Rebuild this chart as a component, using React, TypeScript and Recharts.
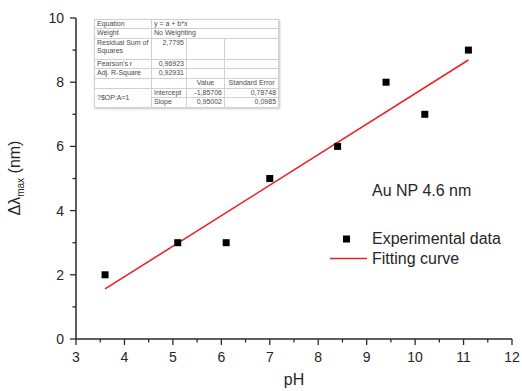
import React from "react";
import {
  ComposedChart,
  XAxis,
  YAxis,
  Scatter,
  Line,
  Customized,
} from "recharts";

const experimentalPH = [3.6, 5.1, 6.1, 7.0, 8.4, 9.4, 10.2, 11.1];
const experimentalShift = [2, 3, 3, 5, 6, 8, 7, 9];
const fitPH = [3.6, 11.1];
const fitShift = [1.56, 8.69];
const xTicks = [3, 3.5, 4, 4.5, 5, 5.5, 6, 6.5, 7, 7.5, 8, 8.5, 9, 9.5, 10, 10.5, 11, 11.5, 12];
const yTicks = [0, 1, 2, 3, 4, 5, 6, 7, 8, 9, 10];
const yMajorTicks = [0, 2, 4, 6, 8, 10];

const points = experimentalPH.map((x, i) => ({ x, y: experimentalShift[i] }));
const fitLine = fitPH.map((x, i) => ({ x, y: fitShift[i] }));

const FONT = '"Liberation Sans", Arial, sans-serif';
const AXIS = "#2a2a2a";
const TEXT = "#262626";

const XTick = (props: any) => {
  const { x, y, payload } = props;
  const v = payload.value;
  const major = Number.isInteger(v);
  return (
    <g>
      <line x1={x} y1={y} x2={x} y2={y + (major ? 6 : 3.5)} stroke={AXIS} strokeWidth={1.3} />
      {major && (
        <text x={x} y={y + 23} textAnchor="middle" fontSize={14} fill={TEXT} fontFamily={FONT}>
          {v}
        </text>
      )}
    </g>
  );
};

const YTick = (props: any) => {
  const { x, y, payload } = props;
  const v = payload.value;
  const major = yMajorTicks.includes(v);
  return (
    <g>
      <line x1={x} y1={y} x2={x - (major ? 6 : 3.5)} y2={y} stroke={AXIS} strokeWidth={1.3} />
      {major && (
        <text x={x - 12} y={y + 5} textAnchor="end" fontSize={14} fill={TEXT} fontFamily={FONT}>
          {v}
        </text>
      )}
    </g>
  );
};

const SquareDot = (props: any) => {
  const { cx, cy } = props;
  return <rect x={cx - 3.5} y={cy - 3.5} width={7} height={7} fill="#000" />;
};

const Overlay = () => (
  <g fontFamily={FONT} fill={TEXT}>
    <text x={20} y={178} transform="rotate(-90 20 178)" textAnchor="middle" fontSize={16}>
      <tspan>Δλ</tspan>
      <tspan fontSize={10} dy={4}>max</tspan>
      <tspan dy={-4}> (nm)</tspan>
    </text>
    <text x={294} y={385} textAnchor="middle" fontSize={16}>pH</text>
    <text x={372} y={196} fontSize={16}>Au NP 4.6 nm</text>
    <rect x={343} y={235.5} width={7} height={7} fill="#000" />
    <text x={372} y={244} fontSize={16}>Experimental data</text>
    <line x1={330} y1={258.5} x2={367} y2={258.5} stroke="#e8242a" strokeWidth={1.5} />
    <text x={372} y={264} fontSize={16}>Fitting curve</text>
  </g>
);

const cell: React.CSSProperties = {
  border: "1px solid #d0d0d0",
  padding: "0 2px",
  verticalAlign: "top",
  overflow: "hidden",
  whiteSpace: "nowrap",
};

const tableRows = {
  equation: "y = a + b*x",
  weight: "No Weighting",
  rss: "2,7795",
  pearson: "0,96923",
  adjR: "0,92931",
  intercept: "-1,85706",
  interceptErr: "0,78748",
  slope: "0,95002",
  slopeErr: "0,0985",
};

const FitTable = () => (
  <table
    style={{
      position: "absolute",
      left: 94,
      top: 19,
      width: 184,
      borderCollapse: "collapse",
      tableLayout: "fixed",
      fontFamily: FONT,
      fontSize: 7,
      lineHeight: "8px",
      color: "#4a4a4a",
      background: "#fff",
      boxShadow: "1px 1px 2px #c8c8c8",
      border: "1px solid #b8b8b8",
    }}
  >
    <colgroup>
      <col style={{ width: 57 }} />
      <col style={{ width: 35 }} />
      <col style={{ width: 38 }} />
      <col style={{ width: 54 }} />
    </colgroup>
    <tbody>
      <tr style={{ height: 8 }}>
        <td style={cell}>Equation</td>
        <td style={cell} colSpan={3}>{tableRows.equation}</td>
      </tr>
      <tr style={{ height: 10 }}>
        <td style={cell}>Weight</td>
        <td style={cell} colSpan={3}>{tableRows.weight}</td>
      </tr>
      <tr style={{ height: 21 }}>
        <td style={{ ...cell, whiteSpace: "normal", padding: "0 0 0 2px" }}>
          Residual Sum of<br />Squares
        </td>
        <td style={{ ...cell, textAlign: "right" }}>{tableRows.rss}</td>
        <td style={cell}></td>
        <td style={cell}></td>
      </tr>
      <tr style={{ height: 9 }}>
        <td style={cell}>Pearson's r</td>
        <td style={{ ...cell, textAlign: "right" }}>{tableRows.pearson}</td>
        <td style={cell}></td>
        <td style={cell}></td>
      </tr>
      <tr style={{ height: 10 }}>
        <td style={cell}>Adj. R-Square</td>
        <td style={{ ...cell, textAlign: "right" }}>{tableRows.adjR}</td>
        <td style={cell}></td>
        <td style={cell}></td>
      </tr>
      <tr style={{ height: 10 }}>
        <td style={cell}></td>
        <td style={cell}></td>
        <td style={{ ...cell, textAlign: "center" }}>Value</td>
        <td style={{ ...cell, textAlign: "center" }}>Standard Error</td>
      </tr>
      <tr style={{ height: 9 }}>
        <td style={{ ...cell, verticalAlign: "middle" }} rowSpan={2}>?$OP:A=1</td>
        <td style={cell}>Intercept</td>
        <td style={{ ...cell, textAlign: "right" }}>{tableRows.intercept}</td>
        <td style={{ ...cell, textAlign: "right" }}>{tableRows.interceptErr}</td>
      </tr>
      <tr style={{ height: 10 }}>
        <td style={cell}>Slope</td>
        <td style={{ ...cell, textAlign: "right" }}>{tableRows.slope}</td>
        <td style={{ ...cell, textAlign: "right" }}>{tableRows.slopeErr}</td>
      </tr>
    </tbody>
  </table>
);

export default function App() {
  return (
    <div style={{ position: "absolute", left: 0, top: 0, width: 522, height: 391, background: "#fff" }}>
      <ComposedChart
        width={522}
        height={391}
        margin={{ top: 18, right: 10, bottom: 22, left: 26 }}
      >
        <XAxis
          type="number"
          dataKey="x"
          domain={[3, 12]}
          ticks={xTicks}
          interval={0}
          tickSize={0}
          tickMargin={0}
          tickLine={false}
          tick={<XTick />}
          axisLine={{ stroke: AXIS, strokeWidth: 1.5 }}
          height={30}
          allowDataOverflow
        />
        <YAxis
          type="number"
          dataKey="y"
          domain={[0, 10]}
          ticks={yTicks}
          interval={0}
          tickSize={0}
          tickMargin={0}
          tickLine={false}
          tick={<YTick />}
          axisLine={{ stroke: AXIS, strokeWidth: 1.5 }}
          width={50}
          allowDataOverflow
        />
        <Line
          data={fitLine}
          dataKey="y"
          stroke="#e8242a"
          strokeWidth={1.6}
          dot={false}
          isAnimationActive={false}
        />
        <Scatter
          data={points}
          dataKey="y"
          shape={<SquareDot />}
          isAnimationActive={false}
        />
        <Customized component={<Overlay />} />
      </ComposedChart>
      <FitTable />
    </div>
  );
}
